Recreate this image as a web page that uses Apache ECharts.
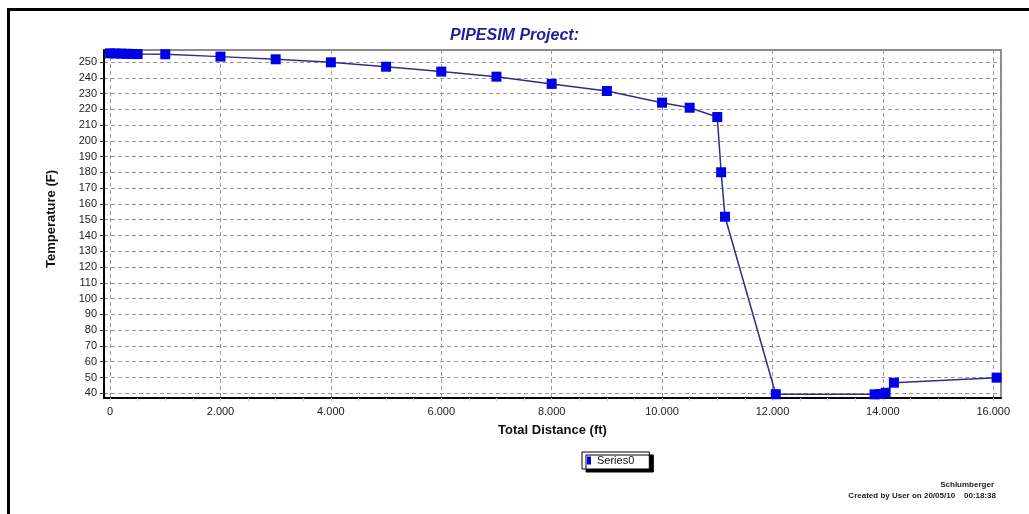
<!DOCTYPE html>
<html>
<head>
<meta charset="utf-8">
<title>PIPESIM Project</title>
<script src="https://cdn.jsdelivr.net/npm/echarts@6/dist/echarts.min.js"></script>
<style>
  html, body { margin: 0; padding: 0; background: #ffffff; }
  #chart { width: 1029px; height: 514px; }
</style>
</head>
<body>
<div id="chart"></div>
<script>
// Temperature profile along the flowline (distance in ft, temperature in F)
const distanceFt = [
  0, 100, 200, 300, 400, 500, 1000, 2000, 3000, 4000, 5000, 6000, 7000,
  8000, 9000, 10000, 10500, 11000, 11070, 11140, 12060,
  13850, 13950, 14050, 14200, 16060
];
const temperatureF = [
  255.5, 255.4, 255.3, 255.2, 255.1, 255.0, 254.9, 253.4, 251.7, 249.8, 247.0, 243.9, 240.7,
  236.1, 231.6, 224.2, 221.0, 215.1, 180.1, 151.9, 39.4,
  39.3, 39.5, 40.3, 46.7, 49.9
];

// Axis tick values
const xLabelTicks = [0, 2000, 4000, 6000, 8000, 10000, 12000, 14000, 16000];
const xMinorTicks = [0, 500, 1000, 1500, 2000, 2500, 3000, 3500, 4000, 4500, 5000, 5500,
  6000, 6500, 7000, 7500, 8000, 8500, 9000, 9500, 10000, 10500, 11000, 11500,
  12000, 12500, 13000, 13500, 14000, 14500, 15000, 15500, 16000];
const yTicks = [40, 50, 60, 70, 80, 90, 100, 110, 120, 130, 140, 150, 160, 170,
  180, 190, 200, 210, 220, 230, 240, 250];

const seriesName = 'Series0';
const titleText = 'PIPESIM Project:';
const xTitle = 'Total Distance (ft)';
const yTitle = 'Temperature (F)';
const footerCompany = 'Schlumberger';
const footerCreated = 'Created by User on 20/05/10    00:18:38';

const points = distanceFt.map((d, i) => [d, temperatureF[i]]);

// thousands separator as a dot: 2000 -> "2.000"
function fmtThousands(v) {
  return String(Math.round(v)).replace(/\B(?=(\d{3})+(?!\d))/g, '.');
}

const FONT = 'Liberation Sans, Arial, sans-serif';
const X_MIN = -110, X_MAX = 16140;
const Y_MIN = 37.0, Y_MAX = 257.6;

const chart = echarts.init(document.getElementById('chart'), null, { renderer: 'canvas' });

chart.setOption({
  backgroundColor: '#ffffff',
  animation: false,
  title: [
    {
      text: titleText,
      left: 'center',
      top: 23,
      textStyle: { fontFamily: FONT, fontSize: 16, fontStyle: 'italic', fontWeight: 'bold', color: '#1e1e9e' }
    },
    {
      text: footerCompany,
      right: 35,
      top: 481,
      padding: 0,
      textStyle: { fontFamily: FONT, fontSize: 8, fontWeight: 'bold', color: '#222' }
    },
    {
      text: footerCreated,
      right: 33,
      top: 492,
      padding: 0,
      textStyle: { fontFamily: FONT, fontSize: 8, fontWeight: 'bold', color: '#222' }
    }
  ],
  legend: {
    left: 582,
    top: 452,
    padding: [3, 15, 3, 5],
    backgroundColor: '#ffffff',
    borderColor: '#000000',
    borderWidth: 1,
    shadowColor: '#000000',
    shadowBlur: 0.01,
    shadowOffsetX: 4,
    shadowOffsetY: 3,
    itemWidth: 4,
    itemHeight: 8,
    itemGap: 5,
    data: [{ name: seriesName, icon: 'rect', itemStyle: { color: '#0000e6' } }],
    textStyle: { fontFamily: FONT, fontSize: 11, color: '#111', padding: [0, 0, 0, 1] }
  },
  graphic: [
    {
      // outer window frame (left and top edges)
      type: 'polyline',
      silent: true,
      shape: { points: [[8.5, 514], [8.5, 9.5], [1029, 9.5]] },
      style: { stroke: '#000000', lineWidth: 3, fill: null }
    }
  ],
  grid: {
    left: 104,
    right: 28,
    top: 50,
    bottom: 116,
    show: true,
    borderColor: '#8c8c8c',
    borderWidth: 2,
    backgroundColor: '#ffffff'
  },
  xAxis: [
    {
      type: 'value',
      min: X_MIN,
      max: X_MAX,
      name: xTitle,
      nameLocation: 'middle',
      nameGap: 26,
      nameTextStyle: { fontFamily: FONT, fontSize: 13, fontWeight: 'bold', color: '#111' },
      axisLine: { show: true, onZero: false, lineStyle: { color: '#000000', width: 2 } },
      axisTick: { show: true, customValues: xMinorTicks, length: 3, lineStyle: { color: '#c8c8c8', width: 1 } },
      axisLabel: {
        customValues: xLabelTicks,
        margin: 8,
        fontFamily: FONT,
        fontSize: 11,
        color: '#222',
        formatter: fmtThousands
      },
      splitLine: { show: false }
    },
    {
      // carries the vertical grid lines only
      type: 'value',
      min: X_MIN,
      max: X_MAX,
      position: 'bottom',
      axisLine: { show: false },
      axisTick: { show: false, customValues: xLabelTicks },
      axisLabel: { show: false },
      splitLine: { show: true, lineStyle: { color: '#9a9a9a', width: 1, type: [4, 3] } }
    }
  ],
  yAxis: {
    type: 'value',
    min: Y_MIN,
    max: Y_MAX,
    name: yTitle,
    nameLocation: 'middle',
    nameGap: 46,
    nameRotate: 90,
    nameTextStyle: { fontFamily: FONT, fontSize: 13, fontWeight: 'bold', color: '#111', padding: [0, 0, 0, 10] },
    axisLine: { show: true, onZero: false, lineStyle: { color: '#000000', width: 2 } },
    axisTick: { show: true, customValues: yTicks, length: 4, lineStyle: { color: '#333', width: 1 } },
    axisLabel: { customValues: yTicks, margin: 7, fontFamily: FONT, fontSize: 11, color: '#222' },
    splitLine: { show: true, lineStyle: { color: '#9a9a9a', width: 1, type: [4, 3] } }
  },
  series: [
    {
      name: seriesName,
      type: 'line',
      xAxisIndex: 0,
      yAxisIndex: 0,
      data: points,
      symbol: 'rect',
      symbolSize: 10,
      showAllSymbol: true,
      clip: false,
      lineStyle: { color: '#2e2e88', width: 1.5 },
      itemStyle: { color: '#0000e6', borderWidth: 0 },
      emphasis: { disabled: true }
    }
  ]
});
</script>
</body>
</html>
